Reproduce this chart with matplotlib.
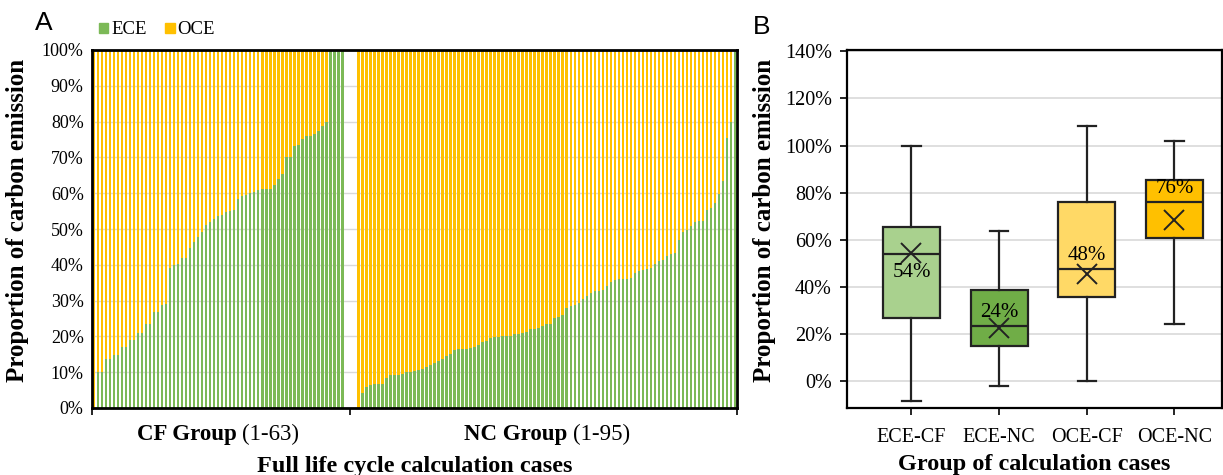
import numpy as np
import matplotlib
matplotlib.use("Agg")
import matplotlib.pyplot as plt
from matplotlib.patches import Patch
from matplotlib.ticker import PercentFormatter
from matplotlib.offsetbox import TextArea, HPacker, AnnotationBbox

SERIF = "Liberation Serif"
SANS = "Liberation Sans"
GREEN, YELLOW = "#7CB957", "#FFC000"

# ── Panel A data: ECE share of each case (OCE = 1 - ECE) ───────────────────
ece_cf = [-8, 10, 10, 13.8, 13.8, 14.8, 14.8, 16.9, 16.9, 19, 19, 21, 21,
          23.5, 23.5, 26.7, 26.7, 28.9, 29, 39, 40, 40.2, 42, 42, 44.6, 46.5,
          47.9, 49.3, 51.1, 51.9, 52.7, 53.7, 54, 54.7, 55, 55.4, 58.4, 59.3,
          59.6, 60, 60.4, 60.8, 61.3, 61.3, 61.3, 62.2, 64, 65.4, 70, 70,
          73.3, 73.4, 75.1, 75.9, 76, 76.5, 77.3, 78.8, 79.8, 100, 100, 100, 100]
ece_nc = [-2, 4.2, 6, 6.4, 6.7, 6.7, 6.7, 8.4, 9.2, 9.2, 9.2, 9.6, 10, 10.1,
          10.4, 10.7, 11, 11.4, 12, 12.6, 13.2, 13.8, 14.4, 15.2, 16.1, 16.4,
          16.5, 16.6, 16.8, 17, 17.7, 18.5, 18.7, 19.5, 19.9, 19.9, 20, 20.1,
          20.2, 20.7, 20.8, 21, 21.2, 22, 22.2, 22.4, 23, 23.4, 23.6, 25.1,
          25.3, 26.1, 27.9, 28.6, 28.9, 29.2, 30.4, 31.4, 32.1, 32.6, 32.8,
          33.1, 34.2, 35.2, 35.7, 35.9, 35.9, 36.1, 36.2, 37.8, 38.2, 38.6,
          38.9, 39.1, 40.1, 41, 41.3, 42.4, 43.1, 43.3, 47, 49.3, 49.8, 50.7,
          51.9, 52.3, 52.3, 55.4, 56, 57.3, 59.8, 63.5, 75.3, 80, 100]
group_names = ["CF Group", "NC Group"]
group_ranges = ["(1-63)", "(1-95)"]
series_names = ["ECE", "OCE"]

# ── Panel B data: box statistics (fractions) ───────────────────────────────
box_labels = ["ECE-CF", "ECE-NC", "OCE-CF", "OCE-NC"]
box_q1 = [0.269, 0.149, 0.356, 0.609]
box_med = [0.539, 0.236, 0.476, 0.760]
box_q3 = [0.655, 0.387, 0.760, 0.855]
box_lo = [-0.083, -0.020, 0.000, 0.244]
box_hi = [1.000, 0.637, 1.082, 1.019]
box_mean = [0.546, 0.227, 0.457, 0.686]
med_text = ["54%", "24%", "48%", "76%"]
box_colors = ["#A9D18E", "#70AD47", "#FFD966", "#FFC000"]

W, H = 1223, 475
fig = plt.figure(figsize=(W / 100, H / 100), dpi=100)

# ── Panel A ────────────────────────────────────────────────────────────────
axA = fig.add_axes([92 / W, 1 - 408 / H, 645 / W, 358 / H])
cf = np.array(ece_cf) / 100
nc = np.array(ece_nc) / 100
x_cf = np.arange(len(cf))
gap = 3
x_nc = np.arange(len(nc)) + len(cf) + gap
bw = 0.62
for x, v in [(x_cf, cf), (x_nc, nc)]:
    axA.bar(x, v, bw, color=GREEN, lw=0, zorder=2)
    axA.bar(x, 1 - v, bw, bottom=v, color=YELLOW, lw=0, zorder=2)

axA.set_xlim(-0.5, x_nc[-1] + 0.5)
axA.set_ylim(0, 1)
axA.set_yticks(np.arange(0, 1.01, 0.1))
axA.yaxis.set_major_formatter(PercentFormatter(1.0, decimals=0))
axA.grid(axis="y", color="#D9D9D9", lw=1, zorder=0)
axA.set_axisbelow(True)
mid = len(cf) + (gap - 1) / 2
axA.set_xticks([-0.5, mid, x_nc[-1] + 0.5])
axA.set_xticklabels([])
axA.tick_params(axis="x", direction="out", length=5, width=1.2)
axA.tick_params(axis="y", length=0, pad=6)
for lab in axA.get_yticklabels():
    lab.set_fontfamily(SERIF)
    lab.set_fontsize(13)
for s in axA.spines.values():
    s.set_color("black")
    s.set_linewidth(2)

centers = [x_cf.mean(), x_nc.mean()]
for c, nm, rg in zip(centers, group_names, group_ranges):
    pack = HPacker(children=[
        TextArea(nm, textprops=dict(fontfamily=SERIF, fontweight="bold", fontsize=16.5)),
        TextArea(rg, textprops=dict(fontfamily=SERIF, fontsize=16.5))],
        pad=0, sep=4, align="baseline")
    ab = AnnotationBbox(pack, (c, -0.075), xycoords=("data", "axes fraction"),
                        frameon=False, box_alignment=(0.5, 0.5))
    axA.add_artist(ab)

axA.text(0.5, -0.133, "Full life cycle calculation cases", transform=axA.transAxes,
         ha="center", va="top", fontfamily=SERIF, fontweight="bold", fontsize=17.5)
fig.text(18 / W, 0.535, "Proportion of carbon emission", rotation=90, ha="center",
         va="center", fontfamily=SERIF, fontweight="bold", fontsize=18)

handles = [Patch(color=GREEN), Patch(color=YELLOW)]
fig.legend(handles, series_names, loc="center left", bbox_to_anchor=(99 / W, 1 - 30 / H),
           ncol=2, frameon=False, handlelength=0.5, handleheight=0.5,
           handletextpad=0.15, columnspacing=1.0, borderaxespad=0, borderpad=0,
           prop=dict(family=SERIF, size=13.5))
fig.text(44 / W, 1 - 23 / H, "A", ha="center", va="center", fontfamily=SANS, fontsize=19)

# ── Panel B ────────────────────────────────────────────────────────────────
axB = fig.add_axes([847 / W, 1 - 408.3 / H, 374.7 / W, 358.3 / H])
pos = np.arange(1, len(box_labels) + 1)
stats = [dict(q1=a, med=b, q3=c, whislo=d, whishi=e, mean=m, label=l)
         for a, b, c, d, e, m, l in zip(box_q1, box_med, box_q3, box_lo,
                                         box_hi, box_mean, box_labels)]
lc = "#222222"
bp = axB.bxp(stats, positions=pos, widths=0.65, capwidths=0.21, showmeans=True,
             showfliers=False, patch_artist=True,
             boxprops=dict(edgecolor=lc, linewidth=1.6),
             medianprops=dict(color=lc, linewidth=1.6),
             whiskerprops=dict(color=lc, linewidth=1.6),
             capprops=dict(color=lc, linewidth=1.6),
             meanprops=dict(marker="x", markersize=14, markeredgewidth=1.4,
                            markeredgecolor=lc))
for patch, col in zip(bp["boxes"], box_colors):
    patch.set_facecolor(col)
for b in bp["boxes"] + bp["medians"] + bp["whiskers"] + bp["caps"] + bp["means"]:
    b.set_zorder(3)

above = [False, True, True, True]
for p, m, t, up in zip(pos, box_med, med_text, above):
    axB.annotate(t, (p, m), xytext=(0, 3 if up else -6), textcoords="offset points",
                 ha="center", va="bottom" if up else "top",
                 fontfamily=SERIF, fontsize=15, zorder=4)

axB.set_xlim(0.264, 4.54)
axB.set_ylim(-0.114, 1.405)
axB.set_yticks(np.arange(0, 1.41, 0.2))
axB.yaxis.set_major_formatter(PercentFormatter(1.0, decimals=0))
axB.grid(axis="y", color="#D9D9D9", lw=1.2, zorder=0)
axB.set_axisbelow(True)
axB.set_xticks(pos)
axB.set_xticklabels(box_labels)
axB.tick_params(direction="out", length=5, width=1.2)
axB.tick_params(axis="x", pad=9)
axB.tick_params(axis="y", pad=6)
for lab in axB.get_xticklabels() + axB.get_yticklabels():
    lab.set_fontfamily(SERIF)
    lab.set_fontsize(14.5)
for s in axB.spines.values():
    s.set_color("black")
    s.set_linewidth(1.6)
axB.set_xlabel("Group of calculation cases", fontfamily=SERIF, fontweight="bold",
               fontsize=17.5, labelpad=5)
fig.text(765 / W, 0.535, "Proportion of carbon emission", rotation=90, ha="center",
         va="center", fontfamily=SERIF, fontweight="bold", fontsize=18)
fig.text(762 / W, 1 - 27 / H, "B", ha="center", va="center", fontfamily=SANS, fontsize=19)

fig.savefig("out.png", dpi=100)
